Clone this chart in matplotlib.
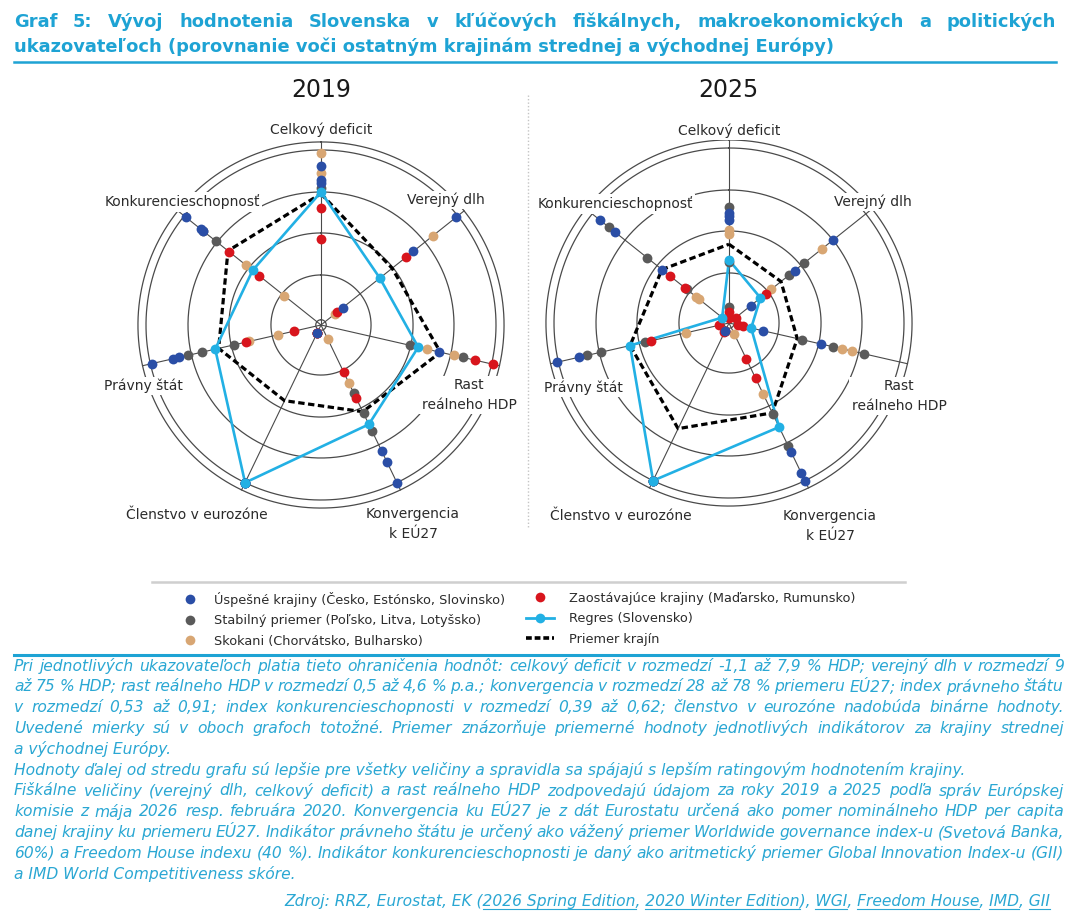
import numpy as np
import matplotlib
matplotlib.use("Agg")
import matplotlib.pyplot as plt
from matplotlib.lines import Line2D

W, H = 1072, 922

INDICATORS = ["Celkový deficit", "Verejný dlh", "Rast reálneho HDP", "Konvergencia k EÚ27",
              "Členstvo v eurozóne", "Právny štát", "Konkurencieschopnosť"]

# radial position on each indicator (0 = centre, 1 = best), same order as INDICATORS
USPESNE_2019 = [[0.91, 0.83, 0.81], [0.99, 0.675, 0.16], [0.69], [1.0, 0.87, 0.80],
                [1.0, 1.0, 0.05], [0.99, 0.87, 0.83], [0.99, 0.88, 0.86]]
STABILNY_2019 = [[0.78], [], [0.83, 0.52], [0.67, 0.56, 0.43],
                 [1.0, 1.0, 0.05], [0.78, 0.70, 0.51], [0.86, 0.77]]
SKOKANI_2019 = [[0.98, 0.87], [0.82, 0.10], [0.78, 0.62], [0.37, 0.09],
                [0.05, 0.05], [0.42, 0.25], [0.55, 0.27]]
ZAOSTAVAJUCE_2019 = [[0.67, 0.49], [0.62, 0.12], [1.01, 0.90], [0.46, 0.30],
                     [0.05, 0.05], [0.44, 0.16], [0.67, 0.45]]
REGRES_2019 = [0.76, 0.43, 0.57, 0.63, 1.0, 0.62, 0.50]
PRIEMER_2019 = [0.75, 0.52, 0.70, 0.55, 0.48, 0.60, 0.68]

USPESNE_2025 = [[0.63, 0.61, 0.59], [0.76, 0.48, 0.16], [0.54, 0.20], [1.0, 0.95, 0.82],
                [1.0, 1.0, 0.05], [1.01, 0.88], [0.94, 0.83, 0.49]]
STABILNY_2025 = [[0.66, 0.35, 0.09], [0.55, 0.44], [0.79, 0.61, 0.43], [0.78, 0.58],
                 [1.0, 1.0, 0.05], [0.83, 0.75, 0.49], [0.88, 0.60, 0.31]]
SKOKANI_2025 = [[0.53, 0.51], [0.68, 0.31], [0.72, 0.66], [0.45, 0.07],
                [1.0, 1.0], [0.25], [0.24, 0.22]]
ZAOSTAVAJUCE_2025 = [[0.03, 0.06], [0.27, 0.05], [0.08, 0.05], [0.35, 0.23],
                     [0.05, 0.06], [0.46, 0.06], [0.43, 0.32]]
REGRES_2025 = [0.36, 0.23, 0.13, 0.66, 1.0, 0.58, 0.05]
PRIEMER_2025 = [0.45, 0.38, 0.40, 0.57, 0.67, 0.58, 0.49]

RINGS = [0.03, 0.286, 0.526, 0.76, 1.0, 1.046]
R_MAX = 1.1

BLUE = "#2a4ea6"
GRAY = "#5a5a5a"
TAN = "#d8a673"
RED = "#d8151d"
CYAN = "#22b0e4"
GRID = "#4a4a4a"
TITLE_COLOR = "#1ea3d4"
NOTE_COLOR = "#2aa7d3"
LABEL_COLOR = "#2b2b2b"

LEGEND_LABELS = ["Úspešné krajiny (Česko, Estónsko, Slovinsko)",
                 "Stabilný priemer (Poľsko, Litva, Lotyšsko)",
                 "Skokani (Chorvátsko, Bulharsko)",
                 "Zaostávajúce krajiny (Maďarsko, Rumunsko)",
                 "Regres (Slovensko)",
                 "Priemer krajín"]

TITLE_1 = "Graf 5: Vývoj hodnotenia Slovenska v kľúčových fiškálnych, makroekonomických a politických"
TITLE_2 = "ukazovateľoch (porovnanie voči ostatným krajinám strednej a východnej Európy)"

NOTES = [
    ("Pri jednotlivých ukazovateľoch platia tieto ohraničenia hodnôt: celkový deficit  v rozmedzí -1,1 až 7,9 % HDP; verejný dlh v rozmedzí 9", True),
    ("až 75 % HDP; rast reálneho HDP v rozmedzí 0,5 až 4,6 % p.a.; konvergencia v rozmedzí 28 až 78 % priemeru EÚ27; index právneho štátu", True),
    ("v rozmedzí 0,53 až 0,91; index konkurencieschopnosti v rozmedzí 0,39 až 0,62; členstvo v eurozóne nadobúda binárne hodnoty.", True),
    ("Uvedené mierky sú v oboch grafoch totožné. Priemer znázorňuje priemerné hodnoty jednotlivých indikátorov za krajiny strednej", True),
    ("a východnej Európy.", False),
    ("Hodnoty ďalej od stredu grafu sú lepšie pre všetky veličiny a spravidla sa spájajú s lepším ratingovým hodnotením krajiny.", False),
    ("Fiškálne veličiny (verejný dlh, celkový deficit) a rast reálneho HDP zodpovedajú údajom za roky 2019 a 2025 podľa správ Európskej", True),
    ("komisie z mája 2026 resp. februára 2020. Konvergencia ku EÚ27 je z dát Eurostatu určená ako pomer nominálneho HDP per capita", True),
    ("danej krajiny ku priemeru EÚ27. Indikátor právneho štátu je určený ako vážený priemer Worldwide governance index-u (Svetová Banka,", True),
    ("60%) a Freedom House indexu (40 %). Indikátor konkurencieschopnosti je daný ako aritmetický priemer Global Innovation Index-u (GII)", True),
    ("a IMD World Competitiveness skóre.", False),
]

SOURCE_PARTS = [("Zdroj: RRZ, Eurostat, EK (", False), ("2026 Spring Edition", True), (", ", False),
                ("2020 Winter Edition", True), ("), ", False), ("WGI", True), (", ", False),
                ("Freedom House", True), (", ", False), ("IMD", True), (", ", False), ("GII", True)]

# label anchor points (pixels) for each radar, same order as INDICATORS
LABELS_2019 = [(321, 130), (446, 200), (469, 395), (413, 524), (197, 515), (143, 386), (182, 202)]
LABELS_2025 = [(729, 131), (873, 202), (899, 396), (830, 526), (621, 516), (583, 388), (615, 204)]


def fx(x):
    return x / W


def fy(y):
    return 1 - y / H


def draw_radar(ax, groups, regres, priemer):
    theta = np.arange(len(INDICATORS)) * 2 * np.pi / len(INDICATORS)
    ring_theta = np.linspace(0, 2 * np.pi, 400)
    for r in RINGS:
        ax.plot(ring_theta, np.full_like(ring_theta, r), color=GRID, lw=0.9, zorder=1)
    for t in theta:
        ax.plot([t, t], [0, RINGS[-1]], color=GRID, lw=0.8, zorder=1)

    closed = np.append(theta, theta[0])
    ax.plot(closed, priemer + priemer[:1], color="black", lw=2.3,
            linestyle=(0, (2.0, 1.1)), zorder=2)
    ax.plot(closed, regres + regres[:1], color=CYAN, lw=1.9, zorder=3)

    for values, color in groups:
        th = [theta[i] for i, vals in enumerate(values) for _ in vals]
        rr = [v for vals in values for v in vals]
        ax.scatter(th, rr, s=50, color=color, linewidths=0, zorder=4)
    ax.scatter(theta, regres, s=50, color=CYAN, linewidths=0, zorder=5)

    ax.set_theta_zero_location("N")
    ax.set_theta_direction(-1)
    ax.set_ylim(0, R_MAX)
    ax.set_xticks([])
    ax.set_yticks([])
    ax.grid(False)
    ax.spines["polar"].set_visible(False)
    ax.patch.set_alpha(0)


def radar_rect(cx, cy):
    half = 175 * R_MAX
    return [fx(cx - half), fy(cy + half), 2 * half / W, 2 * half / H]


def put_labels(fig, positions):
    for name, (x, y) in zip(INDICATORS, positions):
        if name == "Rast reálneho HDP":
            name = "Rast\nreálneho HDP"
        elif name == "Konvergencia k EÚ27":
            name = "Konvergencia\nk EÚ27"
        fig.text(fx(x), fy(y), name, ha="center", va="center", ma="center",
                 fontsize=10, color=LABEL_COLOR, linespacing=1.55,
                 bbox=dict(facecolor="white", edgecolor="none", pad=1.5))


def justify(fig, renderer, text, x0, x1, y, **kw):
    words = text.split()
    size = kw.pop("fontsize")
    arts = [fig.text(0, fy(y), w, va="center", ha="left", fontsize=size, **kw) for w in words]
    for _ in range(6):
        widths = [a.get_window_extent(renderer).width for a in arts]
        gap = (x1 - x0 - sum(widths)) / (len(words) - 1)
        if gap >= size * 0.3:
            break
        size *= (x1 - x0 - size * 0.3 * (len(words) - 1)) / sum(widths)
        for a in arts:
            a.set_fontsize(size)
    x = x0
    for a, w in zip(arts, widths):
        a.set_x(fx(x))
        x += w + gap


def text_width(fig, renderer, s, **kw):
    t = fig.text(0, 0, s + "|", **kw)
    bar = fig.text(0, 0, "|", **kw)
    w = t.get_window_extent(renderer).width - bar.get_window_extent(renderer).width
    t.remove()
    bar.remove()
    return w


fig = plt.figure(figsize=(W / 100, H / 100), dpi=100)
renderer = fig.canvas.get_renderer()

ax1 = fig.add_axes(radar_rect(321, 325), projection="polar")
draw_radar(ax1, [(STABILNY_2019, GRAY), (SKOKANI_2019, TAN), (ZAOSTAVAJUCE_2019, RED),
                 (USPESNE_2019, BLUE)], REGRES_2019, PRIEMER_2019)
ax2 = fig.add_axes(radar_rect(729, 323), projection="polar")
draw_radar(ax2, [(STABILNY_2025, GRAY), (SKOKANI_2025, TAN), (ZAOSTAVAJUCE_2025, RED),
                 (USPESNE_2025, BLUE)], REGRES_2025, PRIEMER_2025)

put_labels(fig, LABELS_2019)
put_labels(fig, LABELS_2025)
fig.text(fx(321), fy(90), "2019", ha="center", va="center", fontsize=17, color="#1a1a1a")
fig.text(fx(728), fy(90), "2025", ha="center", va="center", fontsize=17, color="#1a1a1a")

# separators
fig.add_artist(Line2D([fx(528), fx(528)], [fy(95), fy(528)], color="#c4c4c4", lw=1.0,
                      linestyle=(0, (1, 1.5))))
fig.add_artist(Line2D([fx(14), fx(1056)], [fy(62), fy(62)], color=TITLE_COLOR, lw=1.8))
fig.add_artist(Line2D([fx(152), fx(905)], [fy(582), fy(582)], color="#cfcfcf", lw=1.8))
fig.add_artist(Line2D([fx(14), fx(1058)], [fy(655), fy(655)], color=TITLE_COLOR, lw=2.2))

# title
title_kw = dict(fontsize=12.9, fontweight="bold", color=TITLE_COLOR)
justify(fig, renderer, TITLE_1, 14, 1056, 22, **title_kw)
fig.text(fx(14), fy(47), TITLE_2, ha="left", va="center", **title_kw)

# legend
marker_kw = dict(marker="o", linestyle="none", markersize=7, markeredgewidth=0)
handles_left = [Line2D([], [], color=c, **marker_kw) for c in (BLUE, GRAY, TAN)]
handles_right = [Line2D([], [], color=RED, **marker_kw),
                 Line2D([], [], color=CYAN, lw=2, marker="o", markersize=7, markeredgewidth=0),
                 Line2D([], [], color="black", lw=2.6, linestyle=(0, (1.6, 0.8)))]
legend_kw = dict(frameon=False, fontsize=9.3, borderpad=0, borderaxespad=0, labelspacing=0.58,
                 loc="upper left", labelcolor=LABEL_COLOR)
fig.legend(handles_left, LEGEND_LABELS[:3], bbox_to_anchor=(fx(180), fy(592)),
           handlelength=1.6, handletextpad=1.0, **legend_kw)
fig.legend(handles_right, LEGEND_LABELS[3:], bbox_to_anchor=(fx(526), fy(592)),
           handlelength=2.2, handletextpad=1.1, **legend_kw)

# notes
note_kw = dict(fontsize=11.2, style="italic", color=NOTE_COLOR, family="DejaVu Sans")
for i, (line, full) in enumerate(NOTES):
    y = 666 + i * 20.8
    if full:
        justify(fig, renderer, line, 14, 1064, y, **note_kw)
    else:
        fig.text(fx(14), fy(y), line, ha="left", va="center", **note_kw)

# source with underlined links, right aligned
total = text_width(fig, renderer, "".join(p for p, _ in SOURCE_PARTS), **note_kw)
x_start = 1050 - total
fig.text(fx(x_start), fy(901), "".join(p for p, _ in SOURCE_PARTS), ha="left", va="center",
         **note_kw)
prefix = ""
for part, underline in SOURCE_PARTS:
    if underline:
        a = x_start + text_width(fig, renderer, prefix, **note_kw)
        b = x_start + text_width(fig, renderer, prefix + part, **note_kw)
        fig.add_artist(Line2D([fx(a), fx(b)], [fy(909), fy(909)], color=NOTE_COLOR, lw=0.8))
    prefix += part

fig.savefig("out.png", dpi=100)
